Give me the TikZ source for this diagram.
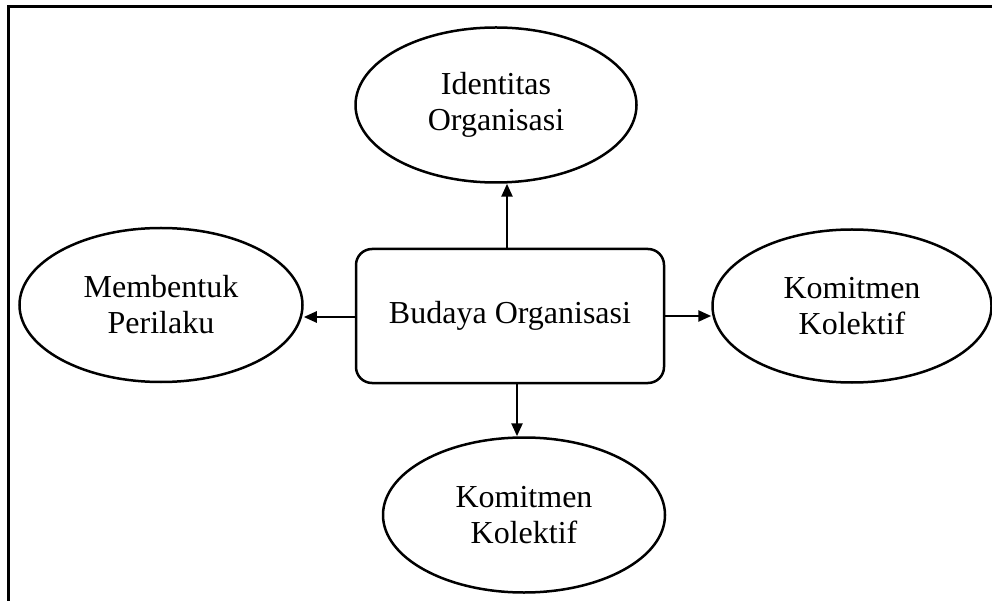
\documentclass[tikz,border=0pt]{standalone}
\usepackage{fontspec}
\setmainfont{Liberation Serif}
\usetikzlibrary{shapes.geometric,arrows.meta}

\begin{document}
\begin{tikzpicture}[x=1pt,y=1pt,
    line width=2.5pt,
    font=\fontsize{32}{36}\selectfont,
    elips/.style={draw,ellipse,inner sep=0pt,align=center},
    kotak/.style={draw,rectangle,rounded corners=16pt,minimum width=308pt,minimum height=134pt},
    panah/.style={-{Triangle[length=13pt,width=11pt]}}]
\useasboundingbox (0,0) rectangle (992,600);
% bingkai luar
\draw[line width=3pt] (8,-10) -- (8,593) -- (1000,593);

\node[kotak] (budaya) at (510,284) {Budaya Organisasi};
\node[elips,minimum width=281pt,minimum height=155pt] (identitas) at (496,495) {Identitas\\Organisasi};
\node[elips,minimum width=283pt,minimum height=154pt] (perilaku) at (161,295) {Membentuk\\Perilaku};
\node[elips,minimum width=279pt,minimum height=153pt] (kanan) at (852,294) {Komitmen\\Kolektif};
\node[elips,minimum width=282pt,minimum height=155pt] (bawah) at (524,85) {Komitmen\\Kolektif};

\draw[panah] ([xshift=-3pt]budaya.north) -- ([xshift=-3pt]budaya.north |- identitas.south);
\draw[panah] ([xshift=7pt]budaya.south) -- ([xshift=7pt]budaya.south |- bawah.north);
\draw[panah] ([yshift=-1pt]budaya.west) -- ([yshift=-1pt]budaya.west -| perilaku.east);
\draw[panah] (budaya.east) -- (budaya.east -| kanan.west);
\end{tikzpicture}
\end{document}
